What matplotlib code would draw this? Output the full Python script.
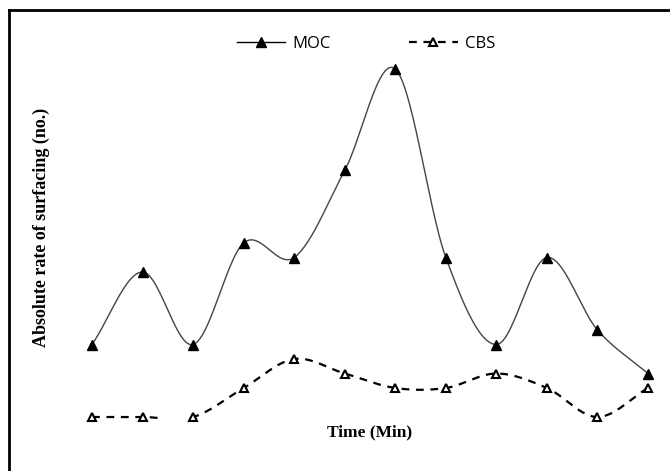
import numpy as np
import matplotlib.pyplot as plt
from matplotlib.lines import Line2D

# values (12 time points)
time_idx = list(range(12))
moc = [7, 12, 7, 14, 13, 19, 26, 13, 7, 13, 8, 5]
cbs = [2, 2, 2, 4, 6, 5, 4, 4, 5, 4, 2, 4]


def smooth(xs, ys, n=30):
    # Catmull-Rom spline through the points, like Excel's smoothed line
    xs = np.asarray(xs, float)
    ys = np.asarray(ys, float)
    px = np.concatenate([[2 * xs[0] - xs[1]], xs, [2 * xs[-1] - xs[-2]]])
    py = np.concatenate([[2 * ys[0] - ys[1]], ys, [2 * ys[-1] - ys[-2]]])
    t = np.linspace(0, 1, n)
    outx, outy = [], []
    for i in range(1, len(px) - 2):
        for p, out in ((px, outx), (py, outy)):
            p0, p1, p2, p3 = p[i - 1], p[i], p[i + 1], p[i + 2]
            seg = 0.5 * (2 * p1 + (-p0 + p2) * t
                         + (2 * p0 - 5 * p1 + 4 * p2 - p3) * t ** 2
                         + (-p0 + 3 * p1 - 3 * p2 + p3) * t ** 3)
            out.extend(seg)
    return np.array(outx), np.array(outy)


W, H = 670, 471
fig = plt.figure(figsize=(W / 100, H / 100), dpi=100)

# axes placed so that points land where they sit in the reference
left, right, top, bottom = 70, 660, 55, 440
ax = fig.add_axes([left / W, 1 - bottom / H, (right - left) / W, (bottom - top) / H])
ux = (648 - 92) / 11
ax.set_xlim(-(92 - left) / ux, 11 + (right - 648) / ux)
uy = 14.5
ax.set_ylim(2 - (bottom - 417) / uy, 2 + (417 - top) / uy)
ax.axis('off')

sx, sy = smooth(time_idx, moc)
ax.plot(sx, sy, color='#444444', lw=1.0, zorder=2)
ax.plot(time_idx, moc, ls='none', marker='^', ms=7, color='black', zorder=3)

cx, cy = smooth(time_idx, cbs)
cy = cy.copy()
cy[(cx > 1.35) & (cx < 1.95)] = np.nan
ax.plot(cx, cy, color='black', lw=1.6, ls=(0, (3.5, 3)), zorder=2)
ax.plot(time_idx, cbs, ls='none', marker='^', ms=6, mfc='white', mec='black',
        mew=1.5, zorder=3)

# legend
moc_h, = ax.plot([], [], color='black', lw=1.0, marker='^', ms=7)
cbs_h, = ax.plot([], [], color='black', lw=1.6, ls=(0, (3.5, 3)), marker='^',
                 ms=6, mfc='white', mew=1.5)
fig.legend([moc_h, cbs_h], ['MOC', 'CBS'], loc='center', ncol=2,
           bbox_to_anchor=(366 / W, 1 - 44 / H), frameon=False,
           prop={'family': 'Open Sans', 'size': 12}, handlelength=2.9,
           columnspacing=4.7, handletextpad=0.45)

serif = ['Liberation Serif', 'DejaVu Serif']
fig.text(370 / W, 1 - 432 / H, 'Time (Min)', ha='center', va='center',
         family=serif, weight='bold', fontsize=12.5)
fig.text(41 / W, 1 - 227 / H, 'Absolute rate of surfacing (no.)', ha='center',
         va='center', rotation=90, family=serif, weight='bold', fontsize=13)

# frame: only top and left edges are visible in the reference
x0, y0 = 9 / W, 1 - 10 / H
fig.lines.append(Line2D([x0, 1], [y0, y0], transform=fig.transFigure,
                        color='black', lw=2))
fig.lines.append(Line2D([x0, x0], [0, y0], transform=fig.transFigure,
                        color='black', lw=2))

fig.savefig('out.png', dpi=100)
